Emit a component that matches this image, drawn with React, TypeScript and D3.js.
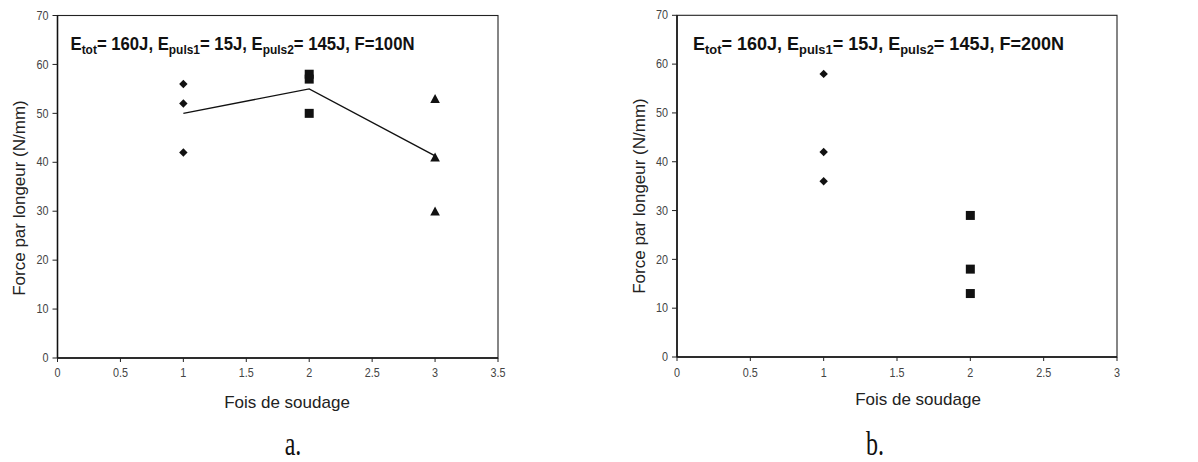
import React from "react";
import * as d3 from "d3";

// ---------- data ----------
const yTicks = [0, 10, 20, 30, 40, 50, 60, 70];
const xTicksA = [0, 0.5, 1, 1.5, 2, 2.5, 3, 3.5];
const xTicksB = [0, 0.5, 1, 1.5, 2, 2.5, 3];

// panel a (F=100N)
const aDiamondX = [1, 1, 1];
const aDiamondY = [56, 52, 42];
const aSquareX = [2, 2, 2];
const aSquareY = [58, 57, 50];
const aTriangleX = [3, 3, 3];
const aTriangleY = [53, 41, 30];
const aMeanX = [1, 2, 3];
const aMeanY = [50, 55, 41.3];

// panel b (F=200N)
const bDiamondX = [1, 1, 1];
const bDiamondY = [58, 42, 36];
const bSquareX = [2, 2, 2];
const bSquareY = [29, 18, 13];

const xTitle = "Fois de soudage";
const yTitle = "Force par longeur (N/mm)";

type Pt = { x: number; y: number };
const zip = (xs: number[], ys: number[]): Pt[] => xs.map((x, i) => ({ x, y: ys[i] }));

const FONT = "'Liberation Sans', Arial, sans-serif";

const diamondPath = "M0,-4.2L4.2,0L0,4.2L-4.2,0Z";
const squarePath = "M-4.5,-4.5H4.5V4.5H-4.5Z";
const trianglePath = "M0,-4.8L4.8,4.2L-4.8,4.2Z";

type PanelProps = {
  left: number;
  right: number;
  top: number;
  bottom: number;
  xMax: number;
  xTicks: number[];
  force: string;
  titleDx: number;
  titleLen: number;
  diamonds: Pt[];
  squares: Pt[];
  triangles: Pt[];
  means: Pt[];
  yTitleX: number;
  yTitleY: number;
  xTitleX: number;
  xTitleY: number;
  tickBaseline: number;
  letter: string;
  letterX: number;
  letterY: number;
};

function Panel(p: PanelProps) {
  const x = d3.scaleLinear().domain([0, p.xMax]).range([p.left, p.right]);
  const y = d3.scaleLinear().domain([0, 70]).range([p.bottom, p.top]);
  const line = d3
    .line<Pt>()
    .x((d) => x(d.x))
    .y((d) => y(d.y));
  const fmt = (v: number) => String(v);
  return (
    <g>
      {/* frame */}
      <rect
        x={p.left}
        y={p.top}
        width={p.right - p.left}
        height={p.bottom - p.top}
        fill="white"
        stroke="#222"
        strokeWidth={1.1}
      />
      <line x1={p.left} x2={p.left} y1={p.top} y2={p.bottom} stroke="#111" strokeWidth={1.5} />
      <line x1={p.left} x2={p.right} y1={p.bottom} y2={p.bottom} stroke="#111" strokeWidth={1.5} />
      {/* y ticks */}
      {yTicks.map((t) => (
        <g key={"y" + t}>
          <line x1={p.left - 5} x2={p.left} y1={y(t)} y2={y(t)} stroke="#222" strokeWidth={1} />
          <text
            x={(p.left - 9) / 0.9}
            y={y(t)}
            dy="0.35em"
            textAnchor="end"
            fontFamily={FONT}
            fontSize={12}
            fill="#444"
            transform="scale(0.9,1)"
          >
            {fmt(t)}
          </text>
        </g>
      ))}
      {/* x ticks */}
      {p.xTicks.map((t) => (
        <g key={"x" + t}>
          <line x1={x(t)} x2={x(t)} y1={p.bottom} y2={p.bottom + 4} stroke="#222" strokeWidth={1} />
          <text
            x={x(t) / 0.9}
            y={p.tickBaseline}
            textAnchor="middle"
            fontFamily={FONT}
            fontSize={12}
            fill="#444"
            transform="scale(0.9,1)"
          >
            {fmt(t)}
          </text>
        </g>
      ))}
      {/* axis titles */}
      <text
        x={p.xTitleX}
        y={p.xTitleY}
        textAnchor="middle"
        fontFamily={FONT}
        fontSize={17}
        fill="#222"
      >
        {xTitle}
      </text>
      <text
        transform={`translate(${p.yTitleX},${p.yTitleY}) rotate(-90)`}
        textAnchor="middle"
        fontFamily={FONT}
        fontSize={17}
        fill="#222"
      >
        {yTitle}
      </text>
      {/* panel title */}
      <text
        x={p.left + p.titleDx}
        y={p.top + 34.5}
        fontFamily={FONT}
        fontWeight="bold"
        fontSize={17.5}
        fill="#111"
        textLength={p.titleLen}
        lengthAdjust="spacingAndGlyphs"
      >
        <tspan>E</tspan>
        <tspan fontSize={12.5} dy={4}>tot</tspan>
        <tspan dy={-4}>= 160J, E</tspan>
        <tspan fontSize={12.5} dy={4}>puls1</tspan>
        <tspan dy={-4}>= 15J, E</tspan>
        <tspan fontSize={12.5} dy={4}>puls2</tspan>
        <tspan dy={-4}>{"= 145J, " + p.force}</tspan>
      </text>
      {/* mean line */}
      {p.means.length > 0 && (
        <path d={line(p.means) || ""} fill="none" stroke="#111" strokeWidth={1.4} />
      )}
      {/* markers */}
      {p.diamonds.map((d, i) => (
        <path key={"d" + i} d={diamondPath} transform={`translate(${x(d.x)},${y(d.y)})`} fill="#111" />
      ))}
      {p.squares.map((d, i) => (
        <path key={"s" + i} d={squarePath} transform={`translate(${x(d.x)},${y(d.y)})`} fill="#111" />
      ))}
      {p.triangles.map((d, i) => (
        <path key={"t" + i} d={trianglePath} transform={`translate(${x(d.x)},${y(d.y)})`} fill="#111" />
      ))}
      {/* sub-figure letter */}
      <text
        transform={`translate(${p.letterX},${p.letterY}) scale(1,1.4)`}
        textAnchor="middle"
        fontFamily="'Liberation Serif', 'Times New Roman', serif"
        fontSize={24}
        fill="#111"
      >
        {p.letter}
      </text>
    </g>
  );
}

export default function App() {
  return (
    <svg
      width={1198}
      height={462}
      style={{ position: "absolute", left: 0, top: 0, background: "white" }}
    >
      <rect x={0} y={0} width={1198} height={462} fill="white" />
      <Panel
        left={57.5}
        right={498}
        top={15.5}
        bottom={358}
        xMax={3.5}
        xTicks={xTicksA}
        force="F=100N"
        titleDx={13}
        titleLen={344}
        diamonds={zip(aDiamondX, aDiamondY)}
        squares={zip(aSquareX, aSquareY)}
        triangles={zip(aTriangleX, aTriangleY)}
        means={zip(aMeanX, aMeanY)}
        yTitleX={25}
        yTitleY={198}
        xTitleX={287}
        xTitleY={408}
        tickBaseline={377.5}
        letter="a."
        letterX={293}
        letterY={455}
      />
      <Panel
        left={677}
        right={1117}
        top={15.3}
        bottom={357}
        xMax={3}
        xTicks={xTicksB}
        force="F=200N"
        titleDx={16}
        titleLen={371}
        diamonds={zip(bDiamondX, bDiamondY)}
        squares={zip(bSquareX, bSquareY)}
        triangles={[]}
        means={[]}
        yTitleX={645}
        yTitleY={196}
        xTitleX={918}
        xTitleY={405}
        tickBaseline={376.7}
        letter="b."
        letterX={875}
        letterY={455}
      />
    </svg>
  );
}
